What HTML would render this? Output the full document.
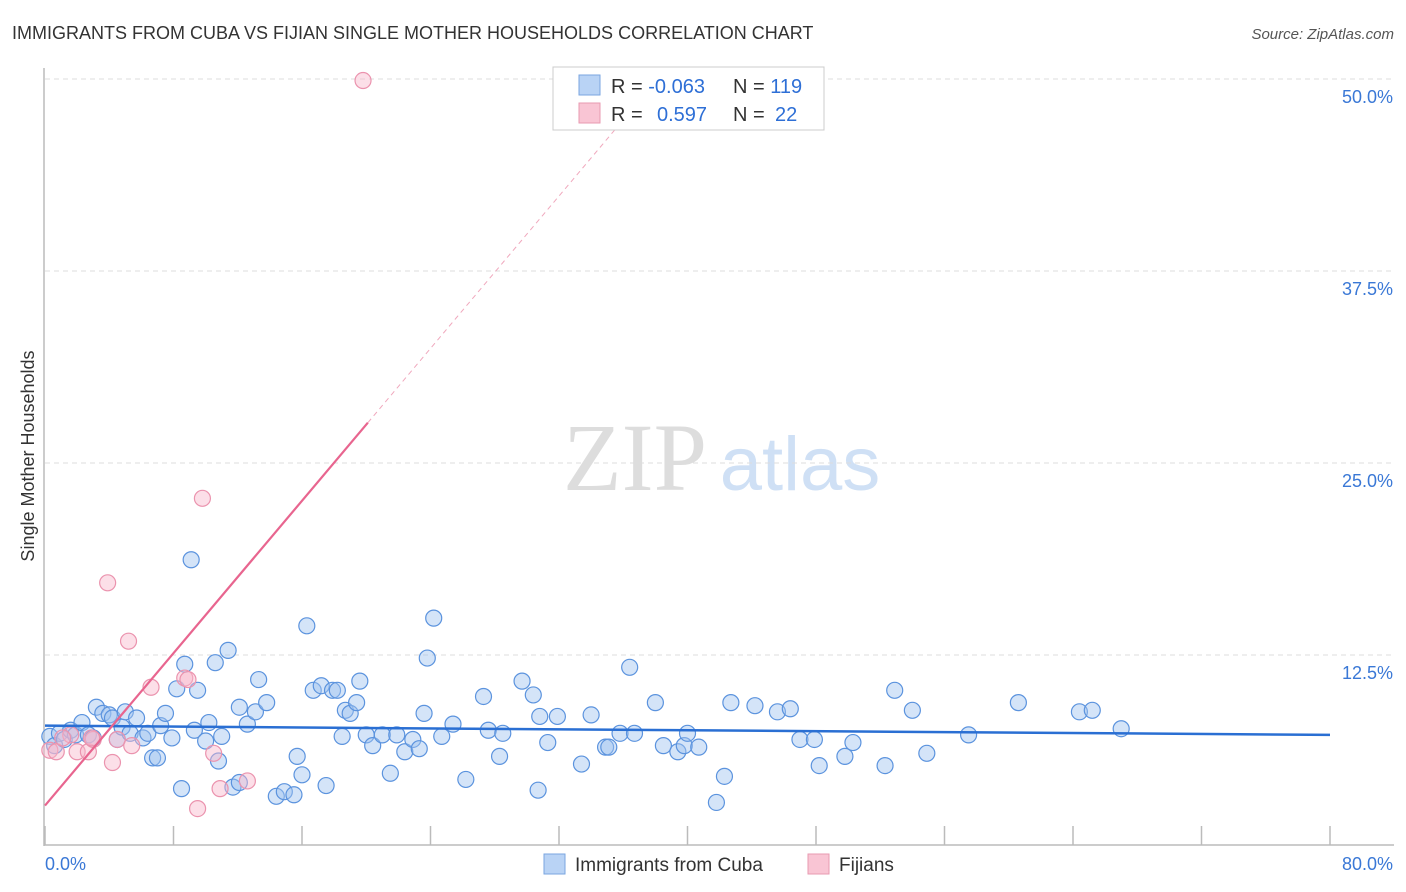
<!DOCTYPE html>
<html><head><meta charset="utf-8">
<style>
body{margin:0;background:#fff;font-family:"Liberation Sans",sans-serif;}
svg{display:block}
</style></head>
<body>
<svg id="chart" width="1406" height="892" xmlns="http://www.w3.org/2000/svg">
<text x="12" y="39" font-size="18" fill="#333">IMMIGRANTS FROM CUBA VS FIJIAN SINGLE MOTHER HOUSEHOLDS CORRELATION CHART</text>
<text x="1394" y="39" font-size="15" fill="#555" font-style="italic" text-anchor="end">Source: ZipAtlas.com</text>
<text x="34" y="456" font-size="18" fill="#333" text-anchor="middle" transform="rotate(-90 34 456)">Single Mother Households</text>
<g>
<text x="635" y="490" font-size="96" fill="#ddd" font-family="Liberation Serif,serif" text-anchor="middle">ZIP</text>
<text x="800" y="490" font-size="76" fill="#cfe0f5" text-anchor="middle">atlas</text>
</g>
<g id="grid"></g>
<g id="axes"></g>
<g id="marks"></g>
<g>
<rect x="553" y="67" width="271" height="63" fill="#fff" stroke="#ccc"/>
<rect x="579" y="75" width="21" height="20" fill="#b9d3f5" stroke="#7aa6e0"/>
<rect x="579" y="103" width="21" height="20" fill="#f9c5d4" stroke="#e89ab1"/>
<text x="611" y="93" font-size="20" fill="#333">R = <tspan fill="#2e6fd6">-0.063</tspan><tspan x="733">N = </tspan><tspan fill="#2e6fd6">119</tspan></text>
<text x="611" y="121" font-size="20" fill="#333">R = <tspan x="657" fill="#2e6fd6">0.597</tspan><tspan x="733">N = </tspan><tspan x="775" fill="#2e6fd6">22</tspan></text>
</g>
<g>
<rect x="544" y="854" width="21" height="20" fill="#b9d3f5" stroke="#7aa6e0"/>
<text x="575" y="871" font-size="19" fill="#333">Immigrants from Cuba</text>
<rect x="808" y="854" width="21" height="20" fill="#f9c5d4" stroke="#e89ab1"/>
<text x="839" y="871" font-size="19" fill="#333">Fijians</text>
</g>
</svg>
<script>
const blueX=[0.3,0.6,0.9,1.2,1.6,1.9,2.3,2.7,3.0,3.2,3.6,4.0,4.2,4.5,4.8,5.0,5.3,5.7,6.1,6.4,6.7,7.0,7.2,7.5,7.9,8.2,8.5,8.7,9.1,9.3,9.5,10.0,10.2,10.6,10.8,11.0,11.4,11.7,12.1,12.1,12.6,13.1,13.3,13.8,14.4,14.9,15.5,15.7,16.0,16.3,16.7,17.2,17.5,17.9,18.2,18.5,18.7,19.0,19.4,19.6,20.0,20.4,21.0,21.5,21.9,22.4,22.9,23.3,23.6,23.8,24.2,24.7,25.4,26.2,27.3,27.6,28.3,28.5,29.7,30.4,30.7,30.8,31.3,31.9,33.4,34.0,34.9,35.1,35.8,36.4,36.7,38.0,38.5,39.4,39.8,40.0,40.7,41.8,42.3,42.7,44.2,45.6,46.4,47.0,47.9,48.2,49.8,50.3,52.3,52.9,54.0,54.9,57.5,60.6,64.4,65.2,67.0];
const blueY=[7.2,6.6,7.4,7.0,7.6,7.3,8.1,7.3,7.1,9.1,8.7,8.6,8.4,7.0,7.8,8.8,7.4,8.4,7.1,7.4,5.8,5.8,7.9,8.7,7.1,10.3,3.8,11.9,18.7,7.6,10.2,6.9,8.1,12.0,5.6,7.2,12.8,3.9,4.2,9.1,8.0,8.8,10.9,9.4,3.3,3.6,3.4,5.9,4.7,14.4,10.2,10.5,4.0,10.2,10.2,7.2,8.9,8.7,9.4,10.8,7.3,6.6,7.3,4.8,7.3,6.2,7.0,6.4,8.7,12.3,14.9,7.2,8.0,4.4,9.8,7.6,5.9,7.4,10.8,9.9,3.7,8.5,6.8,8.5,5.4,8.6,6.5,6.5,7.4,11.7,7.4,9.4,6.6,6.2,6.6,7.4,6.5,2.9,4.6,9.4,9.2,8.8,9.0,7.0,7.0,5.3,5.9,6.8,5.3,10.2,8.9,6.1,7.3,9.4,8.8,8.9,7.7];
const pinkX=[19.8,9.8,3.9,5.2,6.6,8.7,8.9,0.3,0.7,1.6,2.0,2.7,3.0,4.2,4.5,5.4,9.5,10.5,10.9,12.6,1.1,2.9];
const pinkY=[49.9,22.7,17.2,13.4,10.4,11.0,10.9,6.3,6.2,7.3,6.2,6.2,7.0,5.5,7.0,6.6,2.5,6.1,3.8,4.3,7.1,7.1];
const blueTrend=[7.9,7.3];       // y at x=0 and x=80
const pinkTrend=[2.7,1.24];      // intercept, slope
const yTicks=[12.5,25,37.5,50];
const yTickLabels=["12.5%","25.0%","37.5%","50.0%"];
const xTicks=[0,8,16,24,32,40,48,56,64,72,80];

const NS="http://www.w3.org/2000/svg";
const X=v=>45+v/80*1285;
const Y=v=>847-v/50*768;
function mk(tag,attrs,parent){const e=document.createElementNS(NS,tag);for(const k in attrs)e.setAttribute(k,attrs[k]);parent.appendChild(e);return e;}
const grid=document.getElementById('grid'),axes=document.getElementById('axes'),marks=document.getElementById('marks');
yTicks.forEach((t,i)=>{
  const l=mk('line',{x1:45,x2:1394,y1:Y(t),y2:Y(t),stroke:'#ddd','stroke-dasharray':'5,4'},grid);
  
  
  const tx=mk('text',{x:1393,y:Y(t)+24,'font-size':18,fill:'#3a78d6','text-anchor':'end'},axes);
  tx.textContent=yTickLabels[i];
  
  
});
const ya=mk('line',{x1:44,x2:44,y1:68,y2:846,stroke:'#bbb','stroke-width':1.5},axes);


const xa=mk('line',{x1:44,x2:1394,y1:845,y2:845,stroke:'#bbb','stroke-width':1.5},axes);


xTicks.forEach(t=>{
  const l=mk('line',{x1:X(t),x2:X(t),y1:826,y2:845,stroke:'#bbb','stroke-width':1.5},axes);
  
  
});
const xl0=mk('text',{x:45,y:870,'font-size':18,fill:'#3a78d6'},axes);xl0.textContent='0.0%';


const xl1=mk('text',{x:1393,y:870,'font-size':18,fill:'#3a78d6','text-anchor':'end'},axes);xl1.textContent='80.0%';



blueX.forEach((v,i)=>{
  const c=mk('circle',{cx:X(v),cy:Y(blueY[i]),r:8,fill:'rgba(160,195,240,0.45)',stroke:'#5b93de','stroke-width':1.2},marks);
  
  
});
pinkX.forEach((v,i)=>{
  const c=mk('circle',{cx:X(v),cy:Y(pinkY[i]),r:8,fill:'rgba(248,185,205,0.45)',stroke:'#eb93ae','stroke-width':1.2},marks);
  
  
});
const bt=mk('line',{x1:X(0),y1:Y(blueTrend[0]),x2:X(80),y2:Y(blueTrend[1]),stroke:'#2a6fd3','stroke-width':2.5},marks);


const xs=20.1, xe=(50-pinkTrend[0])/pinkTrend[1];
const pt=mk('line',{x1:X(0),y1:Y(pinkTrend[0]),x2:X(xs),y2:Y(pinkTrend[0]+pinkTrend[1]*xs),stroke:'#e8658f','stroke-width':2.2},marks);


const pd=mk('line',{x1:X(xs),y1:Y(pinkTrend[0]+pinkTrend[1]*xs),x2:X(xe),y2:Y(50),stroke:'#f0a8bd','stroke-width':1,'stroke-dasharray':'5,4'},marks);


</script>
</body></html>
